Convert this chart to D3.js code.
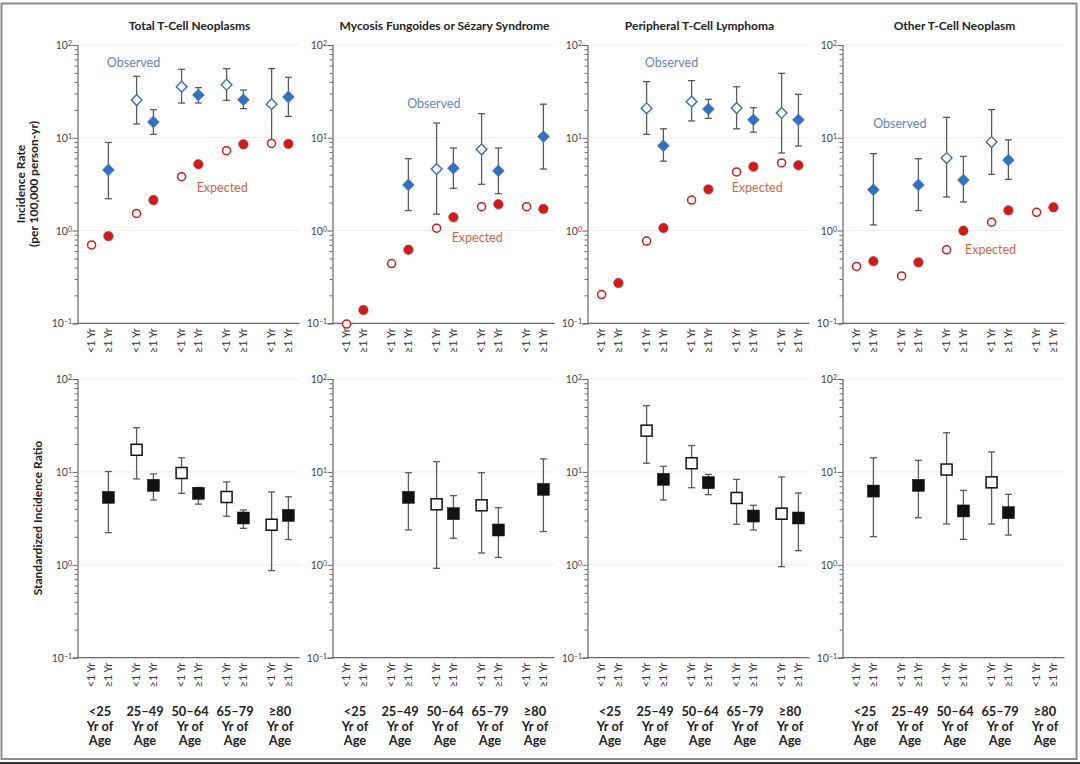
<!DOCTYPE html>
<html><head><meta charset="utf-8">
<script src="https://cdn.jsdelivr.net/npm/d3@7"></script>
<style>body{margin:0;background:#fff}svg{display:block}</style>
</head><body><svg id="c" width="1080" height="764"></svg>
<script>
// ---------- data ----------
const panelTitles = ["Total T-Cell Neoplasms", "Mycosis Fungoides or Sézary Syndrome", "Peripheral T-Cell Lymphoma", "Other T-Cell Neoplasm"];
const ageGroups = [["<25", "Yr of", "Age"], ["25–49", "Yr of", "Age"], ["50–64", "Yr of", "Age"], ["65–79", "Yr of", "Age"], ["≥80", "Yr of", "Age"]];
const durations = ["<1 Yr", "≥1 Yr"];
const yMajorTicks = [0.1, 1, 10, 100];
const yMajorExponents = ["−1", "0", "1", "2"];
// each row: one panel; order: <25 (<1, ≥1), 25–49 (<1, ≥1), 50–64, 65–79, ≥80
const observedRate = [
  [null, 4.5, 25.5, 14.8, 35.5, 28.9, 37.3, 25.7, 23, 27.5],
  [null, null, null, 3.1, 4.6, 4.7, 7.5, 4.4, null, 10.3],
  [null, null, 20.8, 8.2, 24.5, 20.4, 20.9, 15.6, 18.5, 15.6],
  [null, 2.75, null, 3.1, 6.05, 3.5, 9.0, 5.75, null, null]
];
const observedLow = [
  [null, 2.2, 14.1, 10.9, 23.7, 23.7, 25.3, 20.6, 8.8, 17],
  [null, null, null, 1.64, 1.5, 2.85, 3.15, 2.5, null, 4.6],
  [null, null, 10.9, 5.6, 15.2, 16.2, 12.5, 11.5, 6.85, 8.15],
  [null, 1.15, null, 1.64, 2.3, 2.03, 4.04, 3.56, null, null]
];
const observedHigh = [
  [null, 8.9, 46, 20.1, 54.7, 34.7, 55.6, 32.7, 55.6, 44.9],
  [null, null, null, 5.95, 14.4, 7.76, 18.2, 7.76, null, 23],
  [null, null, 40.3, 12.5, 41.3, 26, 35.5, 21.1, 49.5, 29.4],
  [null, 6.74, null, 5.95, 16.6, 6.3, 20.1, 9.5, null, null]
];
const expectedRate = [
  [0.70, 0.87, 1.53, 2.13, 3.81, 5.18, 7.26, 8.5, 8.7, 8.6],
  [0.098, 0.139, 0.44, 0.62, 1.06, 1.39, 1.81, 1.92, 1.81, 1.71],
  [0.204, 0.272, 0.77, 1.065, 2.13, 2.78, 4.28, 4.88, 5.35, 5.05],
  [0.41, 0.466, 0.324, 0.454, 0.62, 0.995, 1.23, 1.65, 1.57, 1.78]
];
const sirValue = [
  [null, 5.32, 17.3, 7.17, 9.73, 5.88, 5.37, 3.19, 2.7, 3.4],
  [null, null, null, 5.32, 4.48, 3.55, 4.37, 2.37, null, 6.49],
  [null, null, 27.8, 8.32, 12.4, 7.66, 5.24, 3.35, 3.55, 3.19],
  [null, 6.22, null, 7.17, 10.6, 3.8, 7.72, 3.64, null, null]
];
const sirLow = [
  [null, 2.22, 8.4, 4.99, 5.88, 4.5, 3.33, 2.47, 0.865, 1.87],
  [null, null, null, 2.37, 0.916, 1.93, 1.34, 1.2, null, 2.28],
  [null, null, 12.4, 4.99, 6.76, 5.69, 2.73, 2.37, 0.955, 1.42],
  [null, 2.01, null, 3.21, 2.75, 1.88, 2.75, 2.09, null, null]
];
const sirHigh = [
  [null, 10.1, 29.9, 9.5, 14.2, 6.8, 7.8, 3.89, 6.08, 5.4],
  [null, null, null, 9.8, 12.9, 5.55, 9.8, 4.12, null, 13.8],
  [null, null, 51.6, 11.5, 19.2, 9.4, 8.3, 4.37, 8.81, 5.93],
  [null, 14.2, null, 13.3, 26.4, 6.33, 16.4, 5.74, null, null]
];

// ---------- layout ----------
const W = 1080, H = 764;
const panelLeft0 = 77.5, panelStep = 255, panelW = 225, axisLen = 222;
const topRange = [323.3, 45], botRange = [657.7, 379];
const labelLayout = [
  {obs: [56, 67], exp: [144.7, 192]},
  {obs: [101.3, 108], exp: [144.7, 241.7]},
  {obs: [84, 67], exp: [169.7, 191.7]},
  {obs: [57.3, 128], exp: [148, 253.7]}
];
const FONT = "Lato, 'Open Sans', sans-serif";
const BLUE = "#3470c0", RED = "#cc1c1c", BAR = "#5a5a5a";

const svg = d3.select("#c");
svg.append("rect").attr("width", W).attr("height", H).attr("fill", "#fff");
svg.append("rect").attr("x", 1.5).attr("y", 3.5).attr("width", 1075).attr("height", 755.5)
  .attr("fill", "none").attr("stroke", "#8c8c8c").attr("stroke-width", 2);
svg.append("rect").attr("x", 0).attr("y", 762).attr("width", W).attr("height", 2).attr("fill", "#333");

const idx = d3.range(10).map(i => ({g: Math.floor(i / 2), d: i % 2, i}));

const minorTicks = [];
[0.1, 1, 10].forEach(b => { for (let k = 2; k <= 9; k++) minorTicks.push(b * k); });

function yAxis(g, y) {
  g.append("g").call(d3.axisLeft(y).tickValues(minorTicks).tickSize(3).tickFormat(""))
    .call(s => s.select(".domain").remove())
    .call(s => s.selectAll("line").attr("stroke", "#666"));
  const ax = g.append("g").call(d3.axisLeft(y).tickValues(yMajorTicks).tickSize(5).tickFormat(""))
    .call(s => s.select(".domain").attr("stroke", "#666").attr("stroke-width", 1.2))
    .call(s => s.selectAll("line").attr("stroke", "#666"));
  ax.selectAll(".tick").each(function (v, i) {
    const t = d3.select(this).append("text").attr("x", -5.5).attr("dy", "0.35em")
      .attr("text-anchor", "end").attr("fill", "#444").attr("font-family", FONT).attr("font-size", 10.5);
    t.append("tspan").text("10");
    t.append("tspan").attr("dy", "-0.45em").attr("font-size", 7).text(yMajorExponents[i]);
  });
}

function xAxis(g, x, sub, yBase) {
  g.append("line").attr("x1", x.range()[0]).attr("x2", x.range()[0] + axisLen)
    .attr("y1", yBase).attr("y2", yBase).attr("stroke", "#666").attr("stroke-width", 1.2);
  idx.forEach(p => {
    g.append("text").attr("transform", `translate(${x(p.g) + sub(p.d)},${yBase + 5}) rotate(-90)`)
      .attr("text-anchor", "end").attr("dy", "0.35em").attr("font-family", FONT).attr("font-size", 10.8)
      .attr("fill", "#333").text(durations[p.d]);
  });
}

function grid(g, x, y) {
  [1, 10, 100].forEach(v => {
    g.append("line").attr("x1", x.range()[0] + 1).attr("x2", x.range()[0] + axisLen)
      .attr("y1", y(v)).attr("y2", y(v)).attr("stroke", "#ececec").attr("stroke-width", 1);
  });
}

function errBar(g, cx, lo, hi, y) {
  g.append("line").attr("x1", cx).attr("x2", cx).attr("y1", y(lo)).attr("y2", y(hi))
    .attr("stroke", BAR).attr("stroke-width", 1.3);
  [lo, hi].forEach(v => g.append("line").attr("x1", cx - 3.5).attr("x2", cx + 3.5)
    .attr("y1", y(v)).attr("y2", y(v)).attr("stroke", BAR).attr("stroke-width", 1.3));
}

const diamond = d3.symbol().type(d3.symbolSquare).size(70)();
const diamondOpen = d3.symbol().type(d3.symbolSquare).size(58)();

panelTitles.forEach((title, pi) => {
  const left = panelLeft0 + pi * panelStep;
  const x = d3.scaleBand().domain(d3.range(5)).range([left, left + panelW]).paddingInner(0).paddingOuter(0);
  const sub = d3.scalePoint().domain([0, 1]).range([x.bandwidth() / 2 - 8.4, x.bandwidth() / 2 + 8.4]);
  const yT = d3.scaleLog().domain([0.1, 100]).range(topRange);
  const yB = d3.scaleLog().domain([0.1, 100]).range(botRange);

  svg.append("text").attr("x", left + 112).attr("y", 30).attr("text-anchor", "middle")
    .attr("font-family", FONT).attr("font-weight", "bold").attr("font-size", 12).attr("fill", "#222").text(title);

  // ---- top ----
  const gT = svg.append("g");
  grid(gT, x, yT);
  const gTa = gT.append("g").attr("transform", `translate(${left},0)`);
  yAxis(gTa, yT);
  xAxis(gT, x, sub, topRange[0]);

  idx.forEach(p => {
    const v = observedRate[pi][p.i];
    if (v != null) errBar(gT, x(p.g) + sub(p.d), observedLow[pi][p.i], observedHigh[pi][p.i], yT);
  });
  idx.forEach(p => {
    const e = expectedRate[pi][p.i];
    if (e != null) {
      gT.append("circle").attr("cx", x(p.g) + sub(p.d)).attr("cy", yT(e))
        .attr("r", p.d === 0 ? 4.0 : 4.7)
        .attr("fill", p.d === 0 ? "#fff" : RED).attr("stroke", RED).attr("stroke-width", p.d === 0 ? 1.5 : 0.6);
    }
  });
  idx.forEach(p => {
    const v = observedRate[pi][p.i];
    if (v != null) {
      gT.append("path").attr("d", p.d === 0 ? diamondOpen : diamond)
        .attr("transform", `translate(${x(p.g) + sub(p.d)},${yT(v)}) rotate(45)`)
        .attr("fill", p.d === 0 ? "#fff" : BLUE).attr("stroke", BLUE).attr("stroke-width", p.d === 0 ? 1.4 : 0.6);
    }
  });
  const L = labelLayout[pi];
  gT.append("text").attr("x", left + L.obs[0]).attr("y", L.obs[1]).attr("text-anchor", "middle")
    .attr("font-family", FONT).attr("font-size", 12.5).attr("fill", "#5b87cb").text("Observed");
  gT.append("text").attr("x", left + L.exp[0]).attr("y", L.exp[1]).attr("text-anchor", "middle")
    .attr("font-family", FONT).attr("font-size", 12.5).attr("fill", "#db6340").text("Expected");

  // ---- bottom ----
  const gB = svg.append("g");
  grid(gB, x, yB);
  const gBa = gB.append("g").attr("transform", `translate(${left},0)`);
  yAxis(gBa, yB);
  xAxis(gB, x, sub, botRange[0]);
  idx.forEach(p => {
    const v = sirValue[pi][p.i];
    if (v != null) errBar(gB, x(p.g) + sub(p.d), sirLow[pi][p.i], sirHigh[pi][p.i], yB);
  });
  idx.forEach(p => {
    const v = sirValue[pi][p.i];
    if (v != null) {
      const s = p.d === 0 ? 11 : 12;
      gB.append("rect").attr("x", x(p.g) + sub(p.d) - s / 2).attr("y", yB(v) - s / 2)
        .attr("width", s).attr("height", s)
        .attr("fill", p.d === 0 ? "#fff" : "#111").attr("stroke", "#111").attr("stroke-width", p.d === 0 ? 1.5 : 0.5);
    }
  });
  ageGroups.forEach((lines, gi) => {
    const t = gB.append("text").attr("text-anchor", "middle").attr("font-family", FONT)
      .attr("font-weight", "bold").attr("font-size", 12.8).attr("fill", "#222");
    lines.forEach((ln, li) => t.append("tspan").attr("x", x(gi) + x.bandwidth() / 2)
      .attr("y", 716 + li * 14.6).text(ln));
  });
});

svg.append("text").attr("transform", "translate(25,184) rotate(-90)").attr("text-anchor", "middle")
  .attr("font-family", FONT).attr("font-weight", "bold").attr("font-size", 12).attr("fill", "#222").text("Incidence Rate");
svg.append("text").attr("transform", "translate(38,184) rotate(-90)").attr("text-anchor", "middle")
  .attr("font-family", FONT).attr("font-weight", "bold").attr("font-size", 12).attr("fill", "#222").text("(per 100,000 person-yr)");
svg.append("text").attr("transform", "translate(41.5,518) rotate(-90)").attr("text-anchor", "middle")
  .attr("font-family", FONT).attr("font-weight", "bold").attr("font-size", 12).attr("fill", "#222").text("Standardized Incidence Ratio");
</script></body></html>
